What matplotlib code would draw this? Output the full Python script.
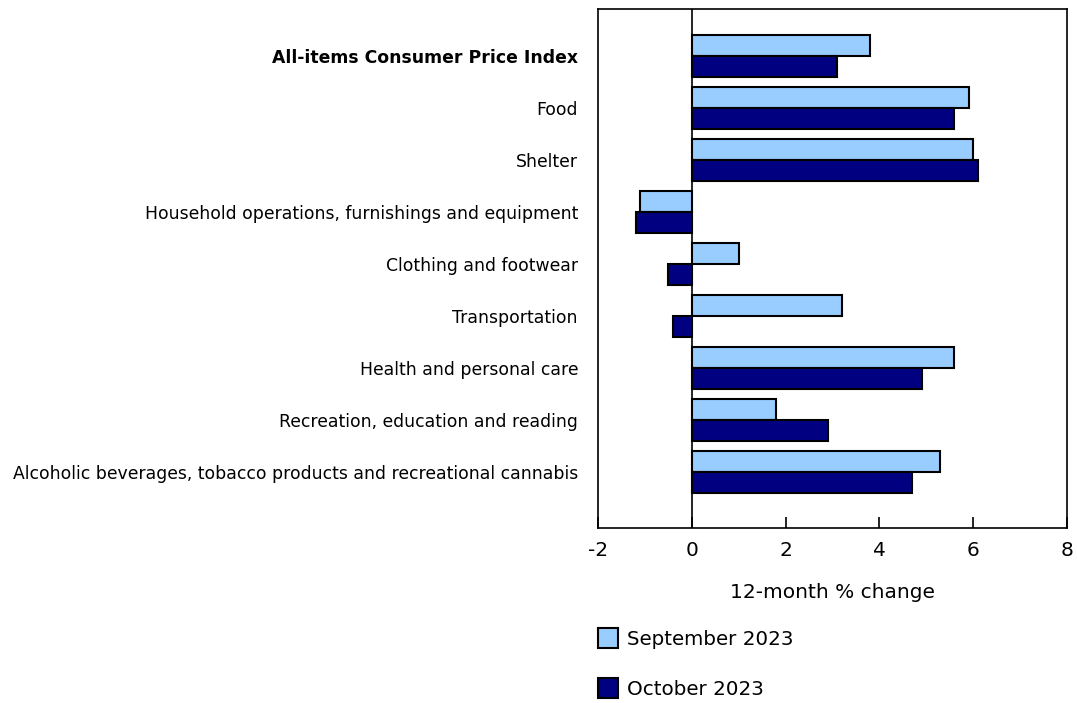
import matplotlib
matplotlib.use("Agg")
import matplotlib.pyplot as plt
from matplotlib.patches import Patch
import numpy as np

categories = [
    "All-items Consumer Price Index",
    "Food",
    "Shelter",
    "Household operations, furnishings and equipment",
    "Clothing and footwear",
    "Transportation",
    "Health and personal care",
    "Recreation, education and reading",
    "Alcoholic beverages, tobacco products and recreational cannabis",
]
sep_2023 = [3.8, 5.9, 6.0, -1.1, 1.0, 3.2, 5.6, 1.8, 5.3]
oct_2023 = [3.1, 5.6, 6.1, -1.2, -0.5, -0.4, 4.9, 2.9, 4.7]
series_labels = ["September 2023", "October 2023"]
colors = ["#99CCFF", "#000080"]

plt.rcParams["font.family"] = ["DejaVu Sans"]

W, H = 1077, 703
fig = plt.figure(figsize=(W / 100, H / 100), dpi=100)
ax = fig.add_axes([598 / W, 1 - 528 / H, (1067 - 598) / W, (528 - 9) / H])

y = np.arange(len(categories))
h = 0.4
ax.barh(y - h / 2, sep_2023, height=h, color=colors[0], edgecolor="black",
        linewidth=1.5, zorder=3)
ax.barh(y + h / 2, oct_2023, height=h, color=colors[1], edgecolor="black",
        linewidth=1.5, zorder=3)
ax.axvline(0, color="black", linewidth=1.2, zorder=2)

ax.set_xlim(-2, 8)
ax.set_ylim(len(categories) - 1 + 1.08, -0.9)
ax.set_xticks([-2, 0, 2, 4, 6, 8])
ax.set_xticklabels(["-2", "0", "2", "4", "6", "8"])
ax.tick_params(axis="x", direction="in", length=8, width=1.2, labelsize=14.5, pad=9.5)
ax.set_yticks(y)
ax.set_yticklabels(categories, fontsize=12.45)
ax.tick_params(axis="y", length=0, pad=14.4)
ax.get_yticklabels()[0].set_fontweight("bold")
for s in ax.spines.values():
    s.set_linewidth(1.2)
ax.set_xlabel("12-month % change", fontsize=14.5, labelpad=16.5)

handles = [Patch(facecolor=c, edgecolor="black", linewidth=1.5) for c in colors]
fig.legend(handles, series_labels, loc="upper left",
           bbox_to_anchor=(598 / W, 1 - 628 / H), frameon=False,
           fontsize=14.3, handlelength=1.0, handleheight=1.2, handletextpad=0.45,
           labelspacing=1.45, borderaxespad=0, borderpad=0)

fig.savefig("out.png", dpi=100)
